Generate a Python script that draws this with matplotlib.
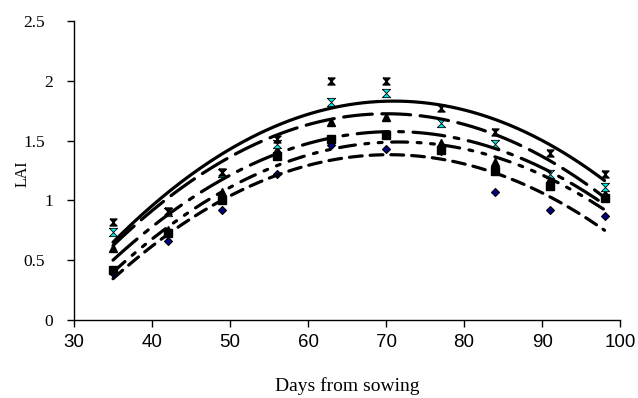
import numpy as np
import matplotlib.pyplot as plt
import matplotlib.transforms as mtransforms

days = [35, 42, 49, 56, 63, 70, 77, 84, 91, 98]

lai_diamond = [0.39, 0.66, 0.92, 1.22, 1.46, 1.43, 1.41, 1.07, 0.92, 0.87]
lai_square = [0.42, 0.73, 1.00, 1.37, 1.51, 1.55, 1.42, 1.25, 1.12, 1.02]
lai_triangle = [0.60, 0.75, 1.07, 1.42, 1.66, 1.70, 1.48, 1.32, 1.18, 1.05]
lai_cyan = [0.74, 0.90, 1.23, 1.47, 1.82, 1.90, 1.65, 1.47, 1.22, 1.11]
lai_star = [0.82, 0.91, 1.24, 1.51, 2.00, 2.00, 1.77, 1.57, 1.40, 1.22]

yticks = [0, 0.5, 1, 1.5, 2, 2.5]
ytick_labels = ['0', '0.5', '1', '1.5', '2', '2.5']
xticks = [30, 40, 50, 60, 70, 80, 90, 100]

hourglass = [(-1, 1), (1, 1), (-1, -1), (1, -1), (-1, 1)]

fig = plt.figure(figsize=(6.38, 3.98), dpi=100)
ax = fig.add_axes([0.116, 0.196, 0.856, 0.751])

x = np.array(days, dtype=float)
xs = np.linspace(35, 98, 200)

series = [
    (lai_diamond, dict(marker='D', ms=4.5, mfc='#000080', mec='black', mew=0.8), (0, (4, 2.5))),
    (lai_square, dict(marker='s', ms=6, mfc='black', mec='black'), (0, (5, 3, 1.2, 3, 1.2, 3))),
    (lai_triangle, dict(marker='^', ms=6, mfc='black', mec='black'), (0, (10, 3, 1.5, 3))),
    (lai_cyan, dict(marker=hourglass, ms=6, mfc='#00e5e5', mec='black', mew=0.6), (0, (9, 3))),
    (lai_star, dict(marker=hourglass, ms=5, mfc='black', mec='black'), '-'),
]

for vals, mstyle, ls in series:
    ax.plot(days, vals, linestyle='none', zorder=3, **mstyle)
    c = np.polyfit(x, np.array(vals), 2)
    ax.plot(xs, np.polyval(c, xs), color='black', lw=2.3, linestyle=ls,
            dash_capstyle='round', solid_capstyle='round', zorder=4)

ax.set_xlim(30, 100)
ax.set_ylim(0, 2.5)
ax.set_xticks(xticks)
ax.set_yticks(yticks)
ax.set_yticklabels(ytick_labels, family='Liberation Serif', fontsize=12.5)
ax.set_xticklabels([str(t) for t in xticks], family='Liberation Sans', fontsize=13.5)
ax.tick_params(direction='out', length=5, width=1)
ax.tick_params(axis='y', pad=10)
ax.tick_params(axis='x', pad=5)

# decimal labels sit further left, as in the original
shift = mtransforms.ScaledTranslation(-8 / 100, 0, fig.dpi_scale_trans)
for lab in ax.get_yticklabels():
    if '.' in lab.get_text():
        lab.set_transform(lab.get_transform() + shift)

for s in ['top', 'right']:
    ax.spines[s].set_visible(False)
for s in ['left', 'bottom']:
    ax.spines[s].set_linewidth(1)

ax.set_xlabel('Days from sowing', family='Liberation Serif', fontsize=14, labelpad=19)
ax.set_ylabel('LAI', family='Liberation Serif', fontsize=11.5)
ax.yaxis.set_label_coords(-0.08, 0.49)

fig.savefig('out.png', dpi=100)
